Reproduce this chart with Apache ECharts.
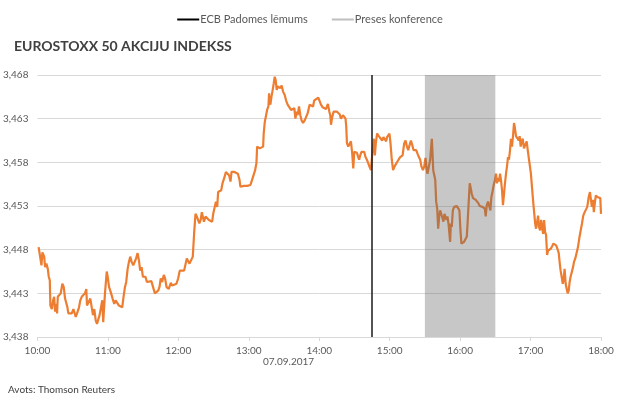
<!DOCTYPE html>
<html>
<head>
<meta charset="utf-8">
<script src="https://cdn.jsdelivr.net/npm/echarts@6/dist/echarts.min.js"></script>
<style>
  html, body { margin: 0; padding: 0; background: #fff; }
  #chart { width: 620px; height: 402px; }
</style>
</head>
<body>
<div id="chart"></div>
<script>
// minutes after 10:00 on 07.09.2017 and EUROSTOXX 50 level
const minutes = [
  1, 2.5, 3.4, 4.2, 5.7, 6.5, 7.6, 8.8, 9.6, 10.5, 11, 12.2, 13.3, 14.2, 15, 15.9, 16.7, 17.3, 18.4, 19.8,
  21.2, 22.4, 23.5, 24.6, 25.5, 26.3, 27.8, 29.2, 30.6, 32, 32.6, 33.7, 35.4, 36.5, 37.7, 38.8, 40.5, 41.6, 42.2, 43.3,
  45, 46.2, 47.3, 48.4, 49.6, 50.7, 51.8, 52.9, 54, 55.2, 56, 57.5, 59, 59.8, 61, 62.3, 64, 65.4, 66.6, 67.7,
  69.4, 71.1, 72.2, 73.3, 74.5, 75.6, 76.8, 77.9, 79, 80.2, 81.6, 83, 84, 85.3, 86.4, 87.5, 88.7, 89.8, 90.9, 92,
  93.2, 94.9, 97, 98.7, 100, 101.4, 102.8, 103.9, 105, 106.2, 107.6, 108.7, 110, 111.8, 113.6, 114.7, 116.4, 118.4, 119.8, 121.2,
  122.7, 124.9, 126, 127.2, 128.3, 129.5, 131.2, 132.3, 133.4, 134.6, 135.7, 136.8, 137.9, 139, 140, 141.8, 143.2, 144.6, 146, 147.4,
  148.8, 149.7, 150.8, 152, 153.1, 153.9, 155.1, 156.5, 157.6, 159.3, 160.5, 161.6, 163.3, 164.4, 165.3, 166.4, 167.8, 169.2, 170.7, 172.1,
  172.9, 174.1, 175.8, 177.2, 178.6, 180, 181.4, 182.8, 184.2, 185.4, 185.9, 186.5, 187.1, 188.2, 189.3, 191, 192.2, 192.7, 193.6, 194.7,
  195.6, 196.7, 197.3, 197.8, 198.4, 199.3, 200.1, 201.2, 202.1, 202.9, 203.8, 204.6, 205.8, 206.9, 208, 209.2, 210.6, 211.7, 213.1, 214.6,
  216, 217.4, 218.8, 219.7, 220.8, 221.6, 222.8, 223.9, 225, 226.2, 227.6, 229, 230.1, 231.8, 233.3, 234.7, 235.8, 237.5, 239.2, 240.3,
  241.5, 242.9, 244.3, 245.7, 246.6, 247.4, 248.6, 249.4, 250, 251.1, 252.2, 253.4, 255.1, 256.2, 257.4, 258.5, 259.6, 260.2, 261.3, 262.4,
  263, 263.6, 264.7, 265.8, 267, 268.1, 269, 269.8, 270.9, 272.1, 273.2, 274, 274.9, 276, 277.2, 278.3, 279.4, 280.6, 281.7, 282.8,
  284, 284.8, 285.7, 286.5, 287.4, 288.2, 289.3, 290.5, 291.3, 292.5, 293.6, 294.7, 295.9, 297, 297.8, 299, 299.8, 300.7, 301.8, 302.9,
  304.4, 305.5, 306.6, 307.8, 308.9, 311, 312.4, 313.5, 314.7, 315.8, 317, 318.1, 319.2, 320.3, 321.5, 322.6, 323.7, 324.9, 326, 327.1,
  328.3, 329.4, 330.5, 331.4, 332.2, 333.4, 334.5, 335.1, 335.9, 336.5, 337.1, 337.9, 338.8, 339.6, 340.5, 341.3, 342.2, 343, 344.1, 345,
  345.8, 346.7, 347.5, 348.4, 349.2, 350.1, 350.9, 351.5, 352.1, 352.9, 353.8, 354.9, 356, 357.2, 358.3, 359.4, 360.3, 361.1, 362.3, 363.4,
  364.5, 365.7, 366.5, 367.4, 368.2, 369.1, 369.9, 371, 372.2, 373.3, 374.4, 375.6, 376.7, 377.8, 379, 380.1, 381, 381.8, 382.7, 383.8,
  384.9, 385.8, 386.6, 387.5, 388.6, 389.7, 390.6, 391.4, 392.3, 393.1, 394, 394.8, 395.7, 396.5, 397.4, 398.2, 399.1, 399.9, 400.8, 401.6,
  402.5, 403.3, 404.2, 405.1, 405.9, 406.7, 407.6, 408.7, 409.9, 410.7, 411.6, 412.4, 413.3, 414.4, 415.5, 416.7, 417.8, 418.6, 419.5, 420.3,
  421.2, 422.1, 422.9, 423.9, 424.7, 425.5, 426.4, 427.2, 428.1, 429, 429.8, 430.7, 431.5, 432.4, 433.2, 434.1, 434.9, 436.1, 437.2, 438.4,
  439.5, 440.6, 441.8, 442.9, 444, 444.9, 445.6, 446.5, 447.4, 448.1, 449, 449.9, 450.8, 451.6, 452.5, 453.3, 454.1, 455.3, 456.2, 457,
  458.1, 459.3, 460.4, 461.5, 462.7, 463.8, 464.9, 466.1, 467.2, 468.3, 469.5, 470.6, 471.3, 472.2, 473.1, 473.9, 474.8, 475.6, 476.5, 477.4,
  478.5, 479.4, 480
];
const index = [
  3448.3, 3448.1, 3446.2, 3447.7, 3447.2, 3446.0, 3446.4, 3445.8, 3444.9, 3444.5, 3441.6, 3441.2, 3442.2, 3442.6, 3440.9, 3441.8, 3440.7, 3442.6, 3442.8, 3443.0,
  3444.1, 3443.7, 3442.4, 3442.2, 3441.4, 3440.7, 3440.5, 3440.7, 3441.2, 3441.4, 3440.3, 3440.7, 3441.4, 3442.2, 3442.6, 3442.4, 3443.0, 3443.5, 3441.6, 3441.8,
  3442.4, 3442.2, 3440.5, 3441.2, 3439.9, 3439.5, 3439.3, 3440.5, 3440.7, 3442.2, 3439.7, 3443.0, 3445.5, 3444.9, 3443.7, 3443.2, 3442.4, 3441.8, 3442.2, 3442.4,
  3441.6, 3441.4, 3441.4, 3442.6, 3443.7, 3444.3, 3445.8, 3446.6, 3447.2, 3446.6, 3446.2, 3446.4, 3447.0, 3447.6, 3446.8, 3445.6, 3446.0, 3444.9, 3445.1, 3444.9,
  3444.3, 3444.3, 3444.4, 3444.3, 3443.0, 3443.0, 3443.3, 3443.7, 3444.7, 3444.3, 3445.1, 3444.7, 3443.7, 3443.5, 3444.2, 3443.9, 3444.0, 3444.1, 3444.7, 3445.6,
  3445.7, 3445.6, 3445.6, 3447.0, 3446.8, 3446.4, 3446.4, 3447.2, 3449.8, 3452.1, 3451.8, 3451.9, 3451.0, 3451.4, 3452.3, 3451.2, 3451.8, 3451.9, 3451.4, 3451.2,
  3451.2, 3452.1, 3452.3, 3453.5, 3452.9, 3454.6, 3454.4, 3454.8, 3455.6, 3456.3, 3456.9, 3456.7, 3456.5, 3455.8, 3456.9, 3457.1, 3456.9, 3456.7, 3456.7, 3456.0,
  3455.2, 3455.4, 3455.3, 3455.2, 3455.3, 3455.1, 3455.4, 3456.0, 3456.2, 3457.1, 3457.5, 3457.9, 3459.8, 3460.0, 3459.6, 3459.6, 3459.8, 3461.3, 3462.6, 3462.8,
  3464.0, 3464.4, 3465.9, 3464.9, 3464.6, 3465.5, 3466.1, 3467.0, 3467.8, 3467.4, 3466.3, 3466.7, 3466.8, 3466.5, 3466.8, 3466.1, 3465.7, 3465.1, 3464.6, 3464.4,
  3464.0, 3463.8, 3464.2, 3463.0, 3463.8, 3463.4, 3464.4, 3463.4, 3462.8, 3462.5, 3462.8, 3463.0, 3463.6, 3464.6, 3464.4, 3464.4, 3465.1, 3465.2, 3465.4, 3465.3,
  3464.6, 3464.3, 3464.4, 3464.1, 3464.4, 3464.7, 3463.8, 3463.4, 3462.3, 3463.2, 3463.8, 3464.0, 3463.8, 3464.0, 3463.5, 3463.0, 3462.8, 3463.4, 3463.6, 3463.0,
  3462.1, 3460.2, 3459.8, 3460.0, 3460.4, 3459.0, 3457.3, 3459.2, 3459.0, 3459.1, 3458.6, 3458.3, 3458.8, 3459.2, 3459.4, 3459.2, 3458.6, 3458.3, 3458.1, 3457.5,
  3457.1, 3457.1, 3459.8, 3460.7, 3458.8, 3460.2, 3461.3, 3461.1, 3460.9, 3461.1, 3460.5, 3460.9, 3461.1, 3460.4, 3460.9, 3461.1, 3461.3, 3460.2, 3458.3, 3457.1,
  3457.6, 3457.8, 3458.1, 3458.3, 3458.6, 3458.8, 3460.2, 3460.5, 3459.8, 3459.4, 3460.0, 3460.5, 3460.0, 3459.4, 3459.6, 3459.4, 3459.0, 3458.6, 3458.3, 3457.5,
  3457.1, 3457.5, 3458.5, 3457.3, 3456.7, 3456.9, 3458.3, 3459.4, 3460.7, 3459.0, 3457.1, 3457.3, 3456.0, 3453.5, 3452.7, 3450.4, 3451.8, 3452.5, 3452.7, 3451.6,
  3451.2, 3452.1, 3452.2, 3451.4, 3451.8, 3451.0, 3449.8, 3448.9, 3451.0, 3450.6, 3452.5, 3452.9, 3452.9, 3453.0, 3452.9, 3452.5, 3450.2, 3448.7, 3448.5, 3448.9,
  3449.1, 3449.5, 3451.4, 3453.7, 3455.6, 3455.0, 3454.4, 3453.9, 3454.0, 3453.7, 3453.7, 3453.3, 3453.0, 3453.0, 3452.9, 3452.7, 3452.7, 3451.8, 3453.1, 3453.5,
  3453.4, 3452.5, 3454.0, 3454.6, 3455.4, 3456.0, 3456.7, 3455.6, 3456.2, 3455.8, 3456.7, 3456.0, 3454.8, 3453.1, 3454.4, 3455.6, 3456.7, 3457.5, 3458.6, 3458.3,
  3459.4, 3460.7, 3459.8, 3461.1, 3462.5, 3461.9, 3461.0, 3461.0, 3460.5, 3461.0, 3459.8, 3460.4, 3460.7, 3459.6, 3460.0, 3460.4, 3459.2, 3458.4, 3458.3, 3456.7,
  3455.2, 3453.7, 3452.5, 3451.0, 3450.4, 3450.2, 3451.9, 3450.6, 3450.2, 3451.4, 3450.6, 3449.8, 3451.4, 3450.0, 3449.7, 3447.4, 3447.9, 3447.9, 3448.1, 3448.4,
  3448.7, 3448.9, 3448.5, 3448.1, 3447.6, 3446.4, 3445.6, 3444.9, 3444.1, 3444.5, 3445.8, 3444.1, 3443.5, 3443.0, 3443.3, 3444.3, 3444.9, 3445.1, 3446.0, 3446.6,
  3447.0, 3447.2, 3448.3, 3449.3, 3450.2, 3451.0, 3451.9, 3452.3, 3452.5, 3452.9, 3454.0, 3454.6, 3454.8, 3452.9, 3453.7, 3452.3, 3453.4, 3454.2, 3454.4, 3454.0,
  3454.1, 3453.9, 3452.1
];
const hourTicks = ['10:00', '11:00', '12:00', '13:00', '14:00', '15:00', '16:00', '17:00', '18:00'];
const ecbDecision = 285;          // 14:45
const pressConference = [330, 390]; // 15:30 - 16:30
const dateLabel = '07.09.2017';

const font = 'Lato, "Open Sans", sans-serif';
const chart = echarts.init(document.getElementById('chart'));

chart.setOption({
  animation: false,
  textStyle: { fontFamily: font },
  grid: { left: 36, right: 19, top: 75, bottom: 65 },
  title: {
    text: 'EUROSTOXX 50 AKCIJU INDEKSS',
    left: 9,
    top: 34,
    textStyle: { fontFamily: font, fontSize: 14, fontWeight: 'bold', color: '#404040' }
  },
  legend: {
    top: 9,
    left: 'center',
    icon: 'rect',
    itemWidth: 22,
    itemHeight: 2,
    itemGap: 24,
    textStyle: { fontFamily: font, fontSize: 11, color: '#595959', padding: [0, 0, 0, -4] },
    data: ['ECB Padomes lēmums', 'Preses konference']
  },
  xAxis: {
    type: 'value',
    min: 0,
    max: 480,
    interval: 60,
    axisLine: { lineStyle: { color: '#d9d9d9' } },
    axisTick: { show: true, length: 4, lineStyle: { color: '#d9d9d9' } },
    splitLine: { show: false },
    axisLabel: {
      color: '#595959',
      fontSize: 10,
      margin: 9,
      formatter: v => hourTicks[Math.round(v / 60)]
    }
  },
  yAxis: {
    type: 'value',
    min: 3438,
    max: 3468,
    interval: 5,
    axisLine: { show: false },
    axisTick: { show: false },
    splitLine: { lineStyle: { color: '#d9d9d9' } },
    axisLabel: {
      color: '#595959',
      fontSize: 10,
      margin: 9,
      formatter: v => v.toLocaleString('en-US')
    }
  },
  graphic: [
    { type: 'text', left: 263, top: 357, style: { text: dateLabel, font: '10px ' + font, fill: '#595959' } },
    { type: 'text', left: 8, top: 385, style: { text: 'Avots: Thomson Reuters', font: '10px ' + font, fill: '#404040' } }
  ],
  series: [
    {
      name: 'EUROSTOXX 50',
      type: 'line',
      data: minutes.map((m, i) => [m, index[i]]),
      showSymbol: false,
      z: 2,
      lineStyle: { color: '#ED7D31', width: 2.2 },
      itemStyle: { color: '#ED7D31' }
    },
    {
      name: 'ECB Padomes lēmums',
      type: 'line',
      data: [],
      itemStyle: { color: '#000' },
      lineStyle: { color: '#000' },
      markLine: {
        silent: true,
        symbol: 'none',
        label: { show: false },
        lineStyle: { color: '#1a1a1a', width: 1.5, type: 'solid' },
        data: [{ xAxis: ecbDecision }]
      }
    },
    {
      name: 'Preses konference',
      type: 'line',
      data: [],
      itemStyle: { color: '#bfbfbf' },
      lineStyle: { color: '#bfbfbf' },
      markArea: {
        silent: true,
        z: 10,
        itemStyle: { color: 'rgba(100,100,100,0.36)' },
        data: [[{ xAxis: pressConference[0] }, { xAxis: pressConference[1] }]]
      }
    }
  ]
});

window.addEventListener('resize', () => chart.resize());
</script>
</body>
</html>
